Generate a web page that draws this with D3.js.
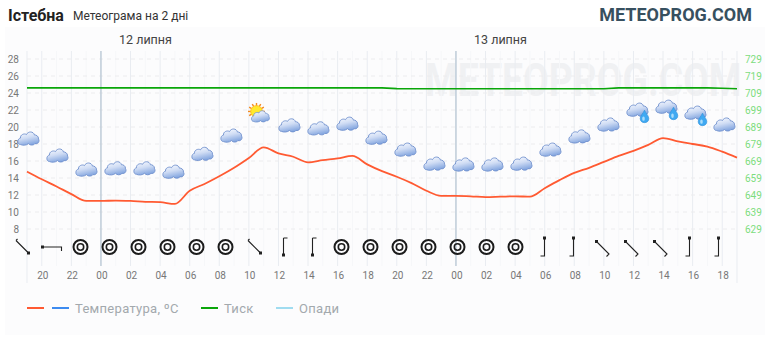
<!DOCTYPE html>
<html>
<head>
<meta charset="utf-8">
<script src="https://cdn.jsdelivr.net/npm/d3@7"></script>
<style>
  html, body { margin: 0; padding: 0; background: #fff; }
  svg { display: block; font-family: Roboto, sans-serif; }
</style>
</head>
<body>
<div id="chart"></div>
<script>
// Hours since 19:00 on the first evening, one value per hour
const hours = d3.range(0, 49);

const temperature = [14.75, 13.85, 13.0, 12.1, 11.3, 11.3, 11.35, 11.3, 11.2, 11.15, 10.95, 12.5, 13.3,
  14.2, 15.2, 16.35, 17.6, 16.9, 16.5, 15.85, 16.1, 16.3, 16.6, 15.6, 14.8, 14.15, 13.4, 12.5, 11.9,
  11.9, 11.85, 11.75, 11.8, 11.85, 11.8, 12.8, 13.75, 14.6, 15.2, 15.9, 16.6, 17.2, 17.9, 18.7, 18.3,
  18, 17.7, 17.1, 16.4];

const pressure = [712, 712, 712, 712, 712, 712, 712, 712, 712, 712, 712, 712, 712, 712, 712, 712, 712,
  712, 712, 712, 712, 712, 712, 712, 712, 711.6, 711.5, 711.5, 711.5, 711.5, 711.5, 711.5, 711.5,
  711.5, 711.5, 711.5, 711.5, 711.5, 711.5, 711.5, 712, 712, 712, 712, 712, 712, 712, 711.8, 711.5];

// Weather icons, every column of the icon rows. Level is read on the temperature axis
const skyKinds = ["cloud", "cloud", "cloud", "cloud", "cloud", "cloud", "cloud", "cloud", "sun",
  "cloud", "cloud", "cloud", "cloud", "cloud", "cloud", "cloud", "cloud", "cloud", "cloud", "cloud",
  "cloud", "rain", "rain", "rain", "cloud"];
const skyLevels = [18.7, 16.7, 15.05, 15.2, 15.2, 14.8, 16.9, 19.05, 21.3, 20.25, 19.9, 20.45, 18.8,
  17.4, 15.75, 15.65, 15.65, 15.75, 17.4, 18.95, 20.35, 22.1, 22.45, 21.75, 20.35];
const windKinds = ["se", "w", "calm", "calm", "calm", "calm", "calm", "calm", "se", "s", "s", "calm",
  "calm", "calm", "calm", "calm", "calm", "calm", "n", "n", "nw", "nw", "nw", "n", "n"];

const hourLabels = ["20", "22", "00", "02", "04", "06", "08", "10", "12", "14", "16", "18",
  "20", "22", "00", "02", "04", "06", "08", "10", "12", "14", "16", "18"];
const hourTicks = [1, 3, 5, 7, 9, 11, 13, 15, 17, 19, 21, 23, 25, 27, 29, 31, 33, 35, 37, 39, 41, 43, 45, 47];
const midnights = [5, 29];
const tempTicks = d3.range(8, 30, 2);
const pressTicks = d3.range(629, 739, 10);
const dayLabels = ["12 липня", "13 липня"];
const legendItems = [
  {label: "Температура, ºC", colors: ["#ff5a32", "#3d8bf0"]},
  {label: "Тиск", colors: ["#0aa60a"]},
  {label: "Опади", colors: ["#a0dcf0"]}
];

const width = 770, height = 340;
const margins = {top: 59, right: 33, bottom: 111, left: 27};

const svg = d3.select("#chart")
  .append("svg")
    .attr("width", width)
    .attr("height", height)
    .attr("viewBox", [0, 0, width, height]);

const xScale = d3.scaleLinear().domain([0, 48]).range([margins.left, width - margins.right]);
const yTemp = d3.scaleLinear().domain([8, 28]).range([height - margins.bottom, margins.top]);
const yPress = d3.scaleLinear().domain([629, 729]).range([height - margins.bottom, margins.top]);
// The icon rows are spaced on their own, a little tighter than the hours
const skyX = d3.scaleLinear().domain([0, 24]).range([28.5, 724.5]);
const windX = d3.scaleLinear().domain([0, 24]).range([22.5, 718.5]);

/* Icons */
const defs = svg.append("defs");
const cloudGrad = defs.append("linearGradient")
  .attr("id", "cloudGrad").attr("x1", 0.25).attr("y1", 0).attr("x2", 0.6).attr("y2", 1);
cloudGrad.append("stop").attr("offset", "0%").attr("stop-color", "#f6f9ff");
cloudGrad.append("stop").attr("offset", "45%").attr("stop-color", "#cfdcf4");
cloudGrad.append("stop").attr("offset", "100%").attr("stop-color", "#7ea2de");

const cloudPath = "M-8,6.5 C-11.5,6.5 -11.5,0.5 -8,0 C-8.5,-3.5 -4,-5 -2,-3.5 C-0.5,-7 5,-7 6,-3 C7,-3.5 10.5,-2 10,1 " +
  "C11.5,3 9.5,6.5 6.5,5.5 C5,7.5 1.5,7.5 0,5.5 C-2,7.5 -6,7.5 -8,6.5 Z";
const dropPath = "M0,-7 C1.5,-3.5 4.3,-1.5 4.3,1.5 C4.3,4 2.3,5.5 0,5.5 C-2.3,5.5 -4.3,4 -4.3,1.5 C-4.3,-1.5 -1.5,-3.5 0,-7 Z";

const drawCloud = (g, scale) => g.append("path")
  .attr("d", cloudPath)
  .attr("transform", `scale(${scale})`)
  .attr("fill", "url(#cloudGrad)")
  .attr("stroke", "#6f90cd")
  .attr("stroke-width", 0.9);

const drawSun = g => {
  const sun = g.append("g").attr("transform", "translate(-4,-4.5)");
  sun.selectAll("line")
    .data(d3.range(0, 360, 30))
    .join("line")
      .attr("x1", d => 5.5 * Math.cos(d * Math.PI / 180))
      .attr("y1", d => 5.5 * Math.sin(d * Math.PI / 180))
      .attr("x2", d => 8.5 * Math.cos(d * Math.PI / 180))
      .attr("y2", d => 8.5 * Math.sin(d * Math.PI / 180))
      .attr("stroke", "#f58a1f")
      .attr("stroke-width", 1.4);
  sun.append("circle").attr("r", 5.8).attr("fill", "#ffe92e").attr("stroke", "#ffc21f");
};

const drawDrop = g => {
  const drop = g.append("g").attr("transform", "translate(7,8)");
  drop.append("path")
    .attr("d", dropPath)
    .attr("fill", "#3fa9f2")
    .attr("stroke", "#2f8fd8")
    .attr("stroke-width", 0.6);
  drop.append("ellipse")
    .attr("cx", -1).attr("cy", 1.5).attr("rx", 1.3).attr("ry", 2.2)
    .attr("fill", "#a9dcfb");
};

// Wind glyphs, in the local coordinates of one column
const windShapes = {
  se: {line: "M-6.5,-6.5 L6,6 M-6.5,-6.5 L-5,-8", dot: [6, 6]},
  w: {line: "M-9,0 L10,0 L10,4", dot: [-9, 0]},
  s: {line: "M0,-9 L0,9 M0,-9 L4,-9", dot: [0, 8]},
  n: {line: "M0,-9 L0,9 L-4,9", dot: [0, -9]},
  nw: {line: "M-6,-5.5 L6.5,7 L4,9.5", dot: [-6, -5.5]}
};

/* Backgrounds and grid */
svg.append("rect")
  .attr("x", 5).attr("y", 27).attr("width", 760).attr("height", 308)
  .attr("fill", "#fcfcfd");

// Watermark, squeezed sideways because the original lettering is tall and narrow
svg.append("text")
  .attr("transform", "translate(425,96) scale(0.91,1.12)")
  .attr("font-size", 41)
  .attr("font-weight", 700)
  .attr("fill", "#f0f1f3")
  .text("METEOPROG.COM");

const gridTop = 51;
const rowBottom = 266, frameBottom = 283;

svg.append("g")
  .selectAll("line")
  .data(hours.filter(d => d % 2 === 0 && d > 0 && d < 48))
  .join("line")
    .attr("x1", d => xScale(d)).attr("x2", d => xScale(d))
    .attr("y1", gridTop).attr("y2", rowBottom)
    .attr("stroke", "#f6f7f9");

svg.append("g")
  .selectAll("line")
  .data(hourTicks)
  .join("line")
    .attr("x1", d => xScale(d)).attr("x2", d => xScale(d))
    .attr("y1", gridTop).attr("y2", rowBottom)
    .attr("stroke", "#e9ecf1");

svg.append("g")
  .selectAll("line")
  .data([0, 48])
  .join("line")
    .attr("x1", d => xScale(d)).attr("x2", d => xScale(d))
    .attr("y1", gridTop).attr("y2", frameBottom)
    .attr("stroke", "#e9ecf1");

svg.append("g")
  .selectAll("line")
  .data(tempTicks)
  .join("line")
    .attr("x1", xScale(0)).attr("x2", xScale(48))
    .attr("y1", d => yTemp(d)).attr("y2", d => yTemp(d))
    .attr("stroke", "#ececee")
    .attr("stroke-dasharray", "4 4");

svg.append("g")
  .selectAll("line")
  .data(midnights)
  .join("line")
    .attr("x1", d => xScale(d)).attr("x2", d => xScale(d))
    .attr("y1", gridTop).attr("y2", rowBottom)
    .attr("stroke", "#a9bccb");

/* Axes */
const leftAxis = svg.append("g")
  .attr("transform", `translate(${margins.left - 8},0)`)
  .call(d3.axisLeft(yTemp).tickValues(tempTicks).tickSize(0).tickPadding(0));
const rightAxis = svg.append("g")
  .attr("transform", `translate(${width - margins.right + 8},0)`)
  .call(d3.axisRight(yPress).tickValues(pressTicks).tickSize(0).tickPadding(0));
const bottomAxis = svg.append("g")
  .attr("transform", "translate(0.5,272)")
  .call(d3.axisBottom(xScale).tickValues(hourTicks)
    .tickFormat((d, i) => hourLabels[i]).tickSize(0).tickPadding(0));

[leftAxis, rightAxis, bottomAxis].forEach(a => {
  a.select(".domain").remove();
  a.selectAll("text")
    .attr("font-family", "Roboto, sans-serif")
    .attr("font-size", 10)
    .attr("fill", "#777");
});
rightAxis.selectAll("text").attr("fill", "#7ddc7d");

/* Day labels */
svg.append("g")
  .selectAll("text")
  .data(dayLabels)
  .join("text")
    .attr("x", (d, i) => xScale(midnights[i]) + 44.5)
    .attr("y", 44)
    .attr("text-anchor", "middle")
    .attr("font-size", 12.5)
    .attr("fill", "#444")
    .text(d => d);

/* Lines */
const tempLine = d3.line().x((d, i) => xScale(hours[i])).y(d => yTemp(d)).curve(d3.curveMonotoneX);
const pressLine = d3.line().x((d, i) => xScale(hours[i])).y(d => yPress(d));

svg.append("path")
  .attr("d", pressLine(pressure))
  .attr("fill", "none")
  .attr("stroke", "#0aa60a")
  .attr("stroke-width", 1.6);

svg.append("path")
  .attr("d", tempLine(temperature))
  .attr("fill", "none")
  .attr("stroke", "#ff5a32")
  .attr("stroke-width", 1.8);

/* Sky icons */
svg.append("g")
  .selectAll("g")
  .data(skyKinds)
  .join("g")
    .attr("transform", (d, i) => `translate(${skyX(i)},${yTemp(skyLevels[i])})`)
    .each(function(kind) {
      const g = d3.select(this);
      if (kind === "sun") drawSun(g);
      drawCloud(g, kind === "sun" ? 0.85 : 1);
      if (kind === "rain") drawDrop(g);
    });

/* Wind row */
svg.append("g")
  .selectAll("g")
  .data(windKinds)
  .join("g")
    .attr("transform", (d, i) => `translate(${windX(i)},247)`)
    .each(function(kind) {
      const g = d3.select(this);
      if (kind === "calm") {
        g.append("circle").attr("r", 7).attr("fill", "none").attr("stroke", "#1c1c1c").attr("stroke-width", 2);
        g.append("circle").attr("r", 3.2).attr("fill", "none").attr("stroke", "#1c1c1c").attr("stroke-width", 1.6);
        return;
      }
      const shape = windShapes[kind];
      g.append("path")
        .attr("d", shape.line)
        .attr("fill", "none")
        .attr("stroke", "#222")
        .attr("stroke-width", 1.1);
      g.append("rect")
        .attr("x", shape.dot[0] - 1.5).attr("y", shape.dot[1] - 1.5)
        .attr("width", 3).attr("height", 3)
        .attr("fill", "#222");
    });

/* Titles */
svg.append("text").attr("x", 8).attr("y", 21)
  .attr("font-size", 16).attr("font-weight", 700).attr("fill", "#222").text("Істебна");
svg.append("text").attr("x", 73).attr("y", 20)
  .attr("font-size", 12).attr("fill", "#333").text("Метеограма на 2 дні");
svg.append("text").attr("x", 752).attr("y", 21)
  .attr("text-anchor", "end")
  .attr("font-size", 18).attr("font-weight", 700).attr("fill", "#37505f").text("METEOPROG.COM");

/* Legend */
const legendX = [27, 201, 276];
const legend = svg.append("g")
  .selectAll("g")
  .data(legendItems)
  .join("g")
    .attr("transform", (d, i) => `translate(${legendX[i]},308)`);

legend.each(function(item) {
  const g = d3.select(this);
  g.selectAll("line")
    .data(item.colors)
    .join("line")
      .attr("x1", (c, i) => i * 25).attr("x2", (c, i) => i * 25 + 17)
      .attr("stroke", c => c)
      .attr("stroke-width", 2);
  g.append("text")
    .attr("x", item.colors.length * 25 - 2)
    .attr("y", 5)
    .attr("font-size", 13)
    .attr("letter-spacing", 0.3)
    .attr("fill", "#a3a9ad")
    .text(item.label);
});
</script>
</body>
</html>
